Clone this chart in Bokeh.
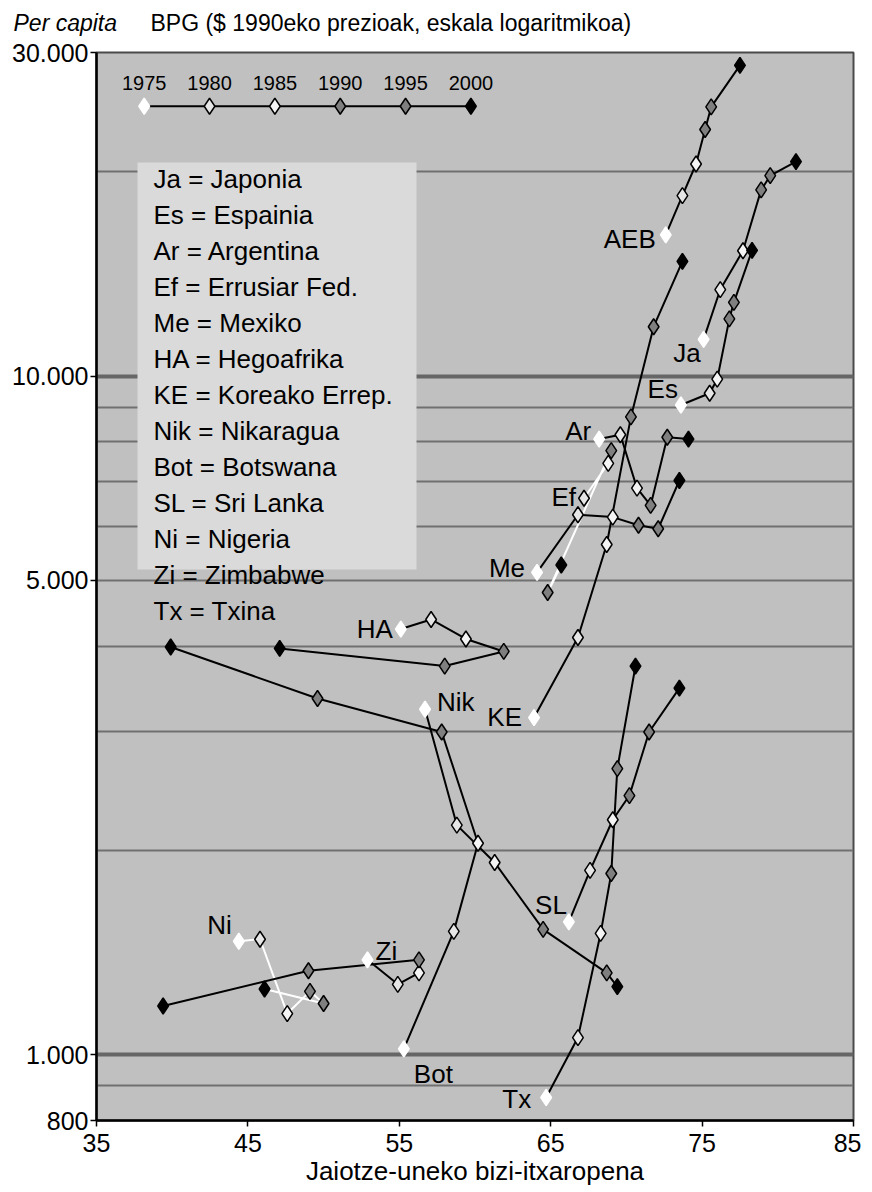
from bokeh.plotting import figure
from bokeh.models import (Range1d, FixedTicker, Label, BoxAnnotation,
                          ColumnDataSource, Grid)
from bokeh.core.properties import value
from bokeh.embed import file_html
from bokeh.resources import INLINE

YEARS = [1975, 1980, 1985, 1990, 1995, 2000]

# life expectancy at birth (x) and GDP per capita, 1990 $ (y), 1975..2000
AEB_LE = [72.6, 73.7, 74.6, 75.2, 75.6, 77.5]
AEB_GDP = [16160, 18460, 20550, 23100, 24940, 28720]
JA_LE = [75.1, 76.2, 77.7, 78.9, 79.5, 81.2]
JA_GDP = [11330, 13420, 15310, 18820, 19750, 20710]
ES_LE = [73.6, 75.5, 76.0, 76.8, 77.1, 78.3]
ES_GDP = [9070, 9440, 9900, 12150, 12850, 15330]
AR_LE = [68.2, 69.6, 70.7, 71.6, 72.7, 74.1]
AR_GDP = [8080, 8200, 6840, 6450, 8130, 8080]
EF_LE = [None, 67.2, 68.8, 69.0, 64.8, 65.7]
EF_GDP = [None, 6610, 7440, 7770, 4800, 5270]
ME_LE = [64.1, 66.8, 69.1, 70.8, 72.1, 73.5]
ME_GDP = [5140, 6250, 6200, 6030, 5960, 7020]
HA_LE = [55.1, 57.1, 59.4, 61.9, 58.0, 47.1]
HA_GDP = [4240, 4380, 4100, 3930, 3740, 3970]
KE_LE = [63.9, 66.8, 68.7, 70.3, 71.8, 73.7]
KE_GDP = [3140, 4120, 5650, 8710, 11830, 14770]
NIK_LE = [56.7, 58.8, 61.3, 64.5, 68.7, 69.4]
NIK_GDP = [3230, 2180, 1920, 1530, 1320, 1260]
BOT_LE = [55.3, 58.6, 60.2, 57.8, 49.6, 39.9]
BOT_GDP = [1020, 1520, 2050, 2990, 3350, 3990]
SL_LE = [66.2, 67.6, 69.1, 70.2, 71.5, 73.5]
SL_GDP = [1570, 1870, 2220, 2410, 2990, 3470]
NI_LE = [44.4, 45.8, 47.6, 49.1, 50.0, 46.1]
NI_GDP = [1470, 1480, 1150, 1240, 1190, 1250]
ZI_LE = [52.9, 54.9, 56.3, 56.3, 49.0, 39.4]
ZI_GDP = [1380, 1270, 1320, 1380, 1330, 1180]
TX_LE = [64.7, 66.8, 68.3, 69.0, 69.4, 70.6]
TX_GDP = [865, 1060, 1510, 1850, 2640, 3740]

LEGEND_LINES = ["Ja = Japonia", "Es = Espainia", "Ar = Argentina",
                "Ef = Errusiar Fed.", "Me = Mexiko", "HA = Hegoafrika",
                "KE = Koreako Errep.", "Nik = Nikaragua", "Bot = Botswana",
                "SL = Sri Lanka", "Ni = Nigeria", "Zi = Zimbabwe",
                "Tx = Txina"]

X_TICKS = [35, 45, 55, 65, 75, 85]
Y_LABEL_TICKS = [800, 1000, 5000, 10000, 30000]
Y_TICK_LABELS = ["800", "1.000", "5.000", "10.000", "30.000"]
Y_GRID = [900, 1000, 2000, 3000, 4000, 5000, 6000, 7000, 8000, 9000,
          10000, 20000, 30000]
Y_GRID_HEAVY = [1000, 10000]

TITLE_ITALIC = "Per capita"
TITLE_REST = "BPG ($ 1990eko prezioak, eskala logaritmikoa)"
X_TITLE = "Jaiotze-uneko bizi-itxaropena"

SERIES = [("AEB", AEB_LE, AEB_GDP), ("Ja", JA_LE, JA_GDP),
          ("Es", ES_LE, ES_GDP), ("Ar", AR_LE, AR_GDP),
          ("Ef", EF_LE, EF_GDP), ("Me", ME_LE, ME_GDP),
          ("HA", HA_LE, HA_GDP), ("KE", KE_LE, KE_GDP),
          ("Nik", NIK_LE, NIK_GDP), ("Bot", BOT_LE, BOT_GDP),
          ("SL", SL_LE, SL_GDP), ("Ni", NI_LE, NI_GDP),
          ("Zi", ZI_LE, ZI_GDP), ("Tx", TX_LE, TX_GDP)]

# ---- styles ----
FONT = "Liberation Sans"
LINE_COLOR = {"Ef": "#ffffff", "Ni": "#ffffff"}
YEAR_FILL = ["#ffffff", "#e6e6e6", "#f4f4f4", "#7f7f7f", "#7f7f7f", "#000000"]
YEAR_EDGE = ["#ffffff", "#000000", "#000000", "#000000", "#000000", "#000000"]
MARKER_SIZE = 16
# label placement relative to the first point of each series: (align, dx px, dy px)
LABEL_POS = {"AEB": ("right", -10, 4), "Ja": ("right", -3, 14),
             "Es": ("right", -3, -16), "Ar": ("right", -8, -8),
             "Ef": ("right", -8, -1), "Me": ("right", -12, -4),
             "HA": ("right", -8, 0), "KE": ("right", -12, -1),
             "Nik": ("left", 12, -7), "Bot": ("left", 10, 25),
             "SL": ("right", -2, -17), "Tx": ("right", -15, 2),
             "Ni": ("right", -7, -16), "Zi": ("left", 8, -9)}
KEY_X0, KEY_DX, KEY_Y = 38.15, 4.316, 25000

p = figure(frame_width=757, frame_height=1068,
           x_range=Range1d(35, 85), y_range=Range1d(800, 30000),
           y_axis_type="log", output_backend="svg", toolbar_location=None,
           min_border_left=96, min_border_right=8, min_border_top=51,
           min_border_bottom=0)
p.background_fill_color = "#c0c0c0"
p.border_fill_color = "#ffffff"
p.outline_line_color = "#4a4a4a"
p.outline_line_width = 2

p.xgrid.visible = False
p.ygrid.ticker = FixedTicker(ticks=Y_GRID)
p.ygrid.grid_line_color = "#707070"
p.ygrid.grid_line_width = 2
p.add_layout(Grid(dimension=1, ticker=FixedTicker(ticks=Y_GRID_HEAVY),
                  grid_line_color="#666666", grid_line_width=4))

for ax in (p.xaxis, p.yaxis):
    ax.axis_line_color = "#000000"
    ax.axis_line_width = 2.5
    ax.major_tick_line_color = "#000000"
    ax.major_tick_line_width = 1.5
    ax.major_tick_out = 6
    ax.major_tick_in = 0
    ax.minor_tick_line_color = None
    ax.major_label_text_font = FONT
    ax.major_label_text_font_size = "25px"
    ax.major_label_text_color = "#000000"

p.xaxis.ticker = FixedTicker(ticks=X_TICKS)
p.xaxis.major_label_standoff = 7
p.xaxis.axis_label = X_TITLE
p.xaxis.axis_label_text_font = FONT
p.xaxis.axis_label_text_font_size = "26px"
p.xaxis.axis_label_text_font_style = "normal"
p.xaxis.axis_label_text_color = "#000000"
p.xaxis.axis_label_standoff = 1

p.yaxis.ticker = FixedTicker(ticks=Y_LABEL_TICKS)
p.yaxis.major_label_overrides = dict(zip(Y_LABEL_TICKS, Y_TICK_LABELS))
p.yaxis.major_label_standoff = 2

# series lines
for code, le, gdp in SERIES:
    pts = [(a, b) for a, b in zip(le, gdp) if a is not None]
    p.line([a for a, _ in pts], [b for _, b in pts],
           line_color=LINE_COLOR.get(code, "#000000"), line_width=2)

# series markers
mx, my, mf, me = [], [], [], []
for code, le, gdp in SERIES:
    for i, (a, b) in enumerate(zip(le, gdp)):
        if a is None:
            continue
        mx.append(a); my.append(b)
        mf.append(YEAR_FILL[i]); me.append(YEAR_EDGE[i])
p.scatter("x", "y", source=ColumnDataSource(dict(x=mx, y=my, f=mf, e=me)),
          marker="diamond", size=MARKER_SIZE, fill_color="f", line_color="e",
          line_width=1.5)

# country labels
for align in ("left", "right"):
    lx, ly, lt, dx, dy = [], [], [], [], []
    for code, le, gdp in SERIES:
        al, ox, oy = LABEL_POS[code]
        if al != align:
            continue
        first = next(i for i, a in enumerate(le) if a is not None)
        lx.append(le[first]); ly.append(gdp[first]); lt.append(code)
        dx.append(ox); dy.append(oy)
    p.text("x", "y", text="t", x_offset="dx", y_offset="dy",
           source=ColumnDataSource(dict(x=lx, y=ly, t=lt, dx=dx, dy=dy)),
           text_align=align, text_baseline="middle",
           text_font=value(FONT), text_font_size="26px", text_color="#000000")

# year key
key_x = [KEY_X0 + KEY_DX * i for i in range(len(YEARS))]
key_y = [KEY_Y] * len(YEARS)
p.line(key_x, key_y, line_color="#000000", line_width=2)
p.scatter(key_x, key_y, marker="diamond", size=MARKER_SIZE, fill_color=YEAR_FILL,
          line_color=YEAR_EDGE, line_width=1.5)
p.text(key_x, key_y, text=[str(y) for y in YEARS], y_offset=-23,
       text_align="center", text_baseline="middle",
       text_font=value(FONT), text_font_size="20px", text_color="#000000")

# legend box
p.add_layout(BoxAnnotation(left=41, right=320, top=958, bottom=551,
                           left_units="screen", right_units="screen",
                           top_units="screen", bottom_units="screen",
                           fill_color="#dadada", fill_alpha=1.0,
                           line_color=None, level="overlay"))
p.add_layout(Label(x=57, y=957, x_units="screen", y_units="screen",
                   text="\n".join(LEGEND_LINES), text_align="left",
                   text_baseline="top", text_font=FONT,
                   text_font_size="26px", text_line_height=1.2,
                   text_color="#000000", level="overlay"))

# title (two parts, placed in the panel above the frame)
p.add_layout(Label(x=-83, y=30, x_units="screen", y_units="screen",
                   text=TITLE_ITALIC, text_font=FONT, text_font_size="23px",
                   text_font_style="italic", text_baseline="alphabetic",
                   text_color="#000000"), "above")
p.add_layout(Label(x=54, y=4, x_units="screen", y_units="screen",
                   text=TITLE_REST, text_font=FONT, text_font_size="23px",
                   text_baseline="alphabetic", text_color="#000000"), "above")

open("out.html", "w").write(file_html(p, INLINE))
